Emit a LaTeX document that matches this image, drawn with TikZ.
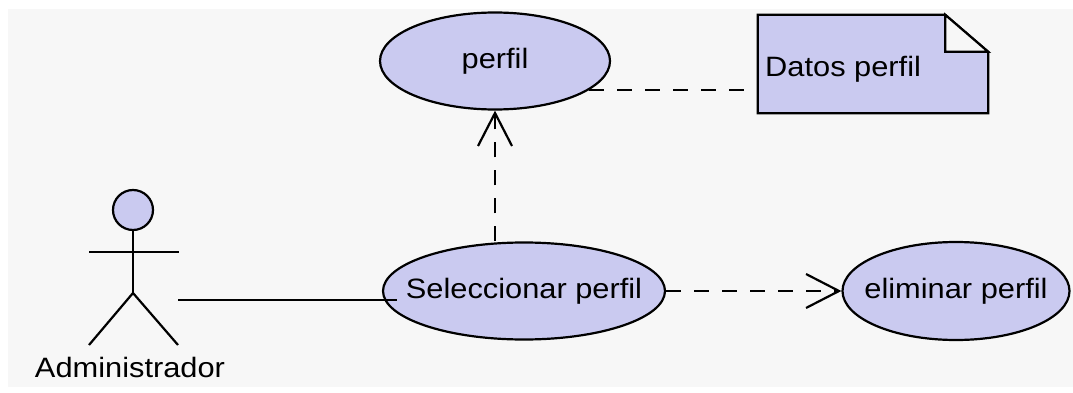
\documentclass[tikz,border=0pt]{standalone}
\usepackage{fontspec}
\setmainfont{Liberation Sans}[FakeStretch=1.1]
\usetikzlibrary{arrows.meta,shapes.geometric}
\definecolor{ucfill}{RGB}{202,202,240}
\definecolor{bggray}{RGB}{247,247,247}
\tikzset{
  uc/.style={ellipse, draw=black, fill=ucfill, line width=2.2pt, inner sep=0pt},
  dep/.style={draw=black, line width=2.2pt, dash pattern=on 15pt off 13pt},
  opentip/.style={-{Straight Barb[length=33pt,width=34pt,line width=2.2pt]}},
  lbl/.style={font=\fontsize{28}{32}\selectfont, inner sep=0pt},
  stick/.style={draw=black, line width=2.2pt},
}
\begin{document}
\begin{tikzpicture}[x=1pt,y=-1pt]
\useasboundingbox (0,0) rectangle (1073,393);
\fill[white] (0,0) rectangle (1073,393);
\fill[bggray] (8,9) rectangle (1073,387);

% use cases
\node[uc, minimum width=230pt, minimum height=97pt] (perfil) at (495,61) {};
\node[lbl] (perfiltext) at (perfil) {perfil};
\node[uc, minimum width=282pt, minimum height=97pt] (sel) at (524,291) {};
\node[lbl] (seltext) at (sel) {Seleccionar perfil};
\node[uc, minimum width=227pt, minimum height=98pt] (elim) at (956,291) {};
\node[lbl] (elimtext) at (elim) {eliminar perfil};

% note
\node[minimum width=230pt, minimum height=98pt, inner sep=0pt] (note) at (873,64) {};
\filldraw[fill=ucfill, draw=black, line width=2.2pt]
  (note.south west) -- (note.north west) -- ([xshift=-43pt]note.north east)
  -- ([yshift=-37pt]note.north east) -- (note.south east) -- cycle;
\filldraw[fill=bggray, draw=black, line width=2.2pt]
  ([xshift=-43pt]note.north east) -- ([xshift=-43pt,yshift=-37pt]note.north east)
  -- ([yshift=-37pt]note.north east) -- cycle;
\node[lbl, anchor=base west] (notetext) at (765,77) {Datos perfil};

% actor
\node[circle, draw=black, fill=ucfill, line width=2.2pt, minimum size=40pt, inner sep=0pt] (head) at (133,210) {};
\coordinate (hip) at (133,293);
\coordinate (armL) at (89,252);
\coordinate (armR) at (179,252);
\coordinate (footL) at (89,345);
\coordinate (footR) at (178,345);
\draw[stick] (head.south) -- (hip);
\draw[stick] (armL) -- (armR);
\draw[stick] (footL) -- (hip) -- (footR);
\node[lbl, anchor=base] (actor) at (130,377) {Administrador};
\coordinate (assocA) at (178,300);

% connectors
\draw[stick] (assocA) -- (assocA -| sel.190);
\draw[dep] (perfil.-17.5) -- (perfil.-17.5 -| note.west);
\draw[dep, opentip] (perfil.south |- sel.north) -- (perfil.south);
\draw[dep, opentip] (sel.east) -- (elim.west);
\end{tikzpicture}
\end{document}
